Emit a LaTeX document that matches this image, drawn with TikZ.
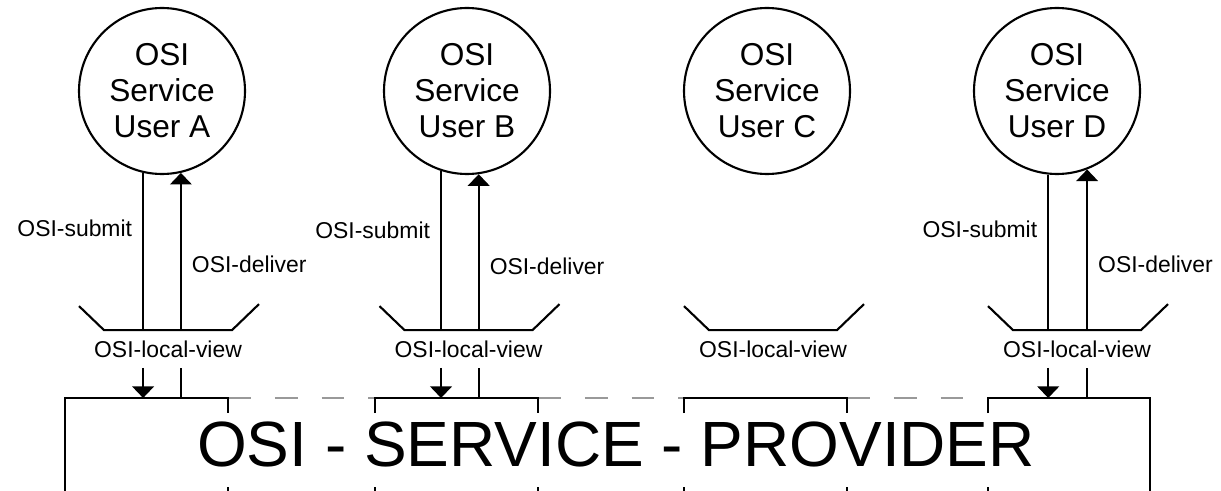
\documentclass[tikz,border=0pt]{standalone}
\usepackage{fontspec}
\setmainfont{Liberation Sans}
\usetikzlibrary{arrows.meta, positioning}
\tikzset{>={Triangle[length=2.9mm, width=5.4mm]}}

\begin{document}
\begin{tikzpicture}[x=2.5mm, y=2.5mm, line width=1.5pt,
    user/.style={draw, circle, minimum size=4.15cm, inner sep=0pt, align=center,
                 font=\fontsize{22.5}{25.6}\selectfont},
    view/.style={inner xsep=0pt, inner ysep=6.7pt, font=\fontsize{16.3}{18}\selectfont},
    lbl/.style={inner sep=0pt, font=\fontsize{16.3}{18}\selectfont},
    gap/.style={black!40, dash pattern=on 5.7mm off 6mm}]
    \useasboundingbox (0,0) rectangle (122.1,-49.1);

    % service users
    \node (A) [user] at (16.2,-9.1) {OSI\\Service\\User A};
    \node (B) [user] at (46.7,-9.1) {OSI\\Service\\User B};
    \node (C) [user] at (76.7,-9.1) {OSI\\Service\\User C};
    \node (D) [user] at (105.7,-9.1) {OSI\\Service\\User D};

    % local views
    \node (vA) [view] at (16.8,-34.9) {OSI-local-view};
    \node (vB) [view] at (46.85,-34.9) {OSI-local-view};
    \node (vC) [view] at (77.3,-34.9) {OSI-local-view};
    \node (vD) [view] at (107.7,-34.9) {OSI-local-view};
    \foreach \v in {vA,vB,vC,vD}
        \draw (\v.north) ++(-8.9,2.4) -- ++(2.5,-2.4) -- ++(12.8,0) -- ++(2.7,2.6);

    % provider
    \coordinate (q1) at (6.5,-39.8);
    \coordinate (q2) at (22.8,-39.8);
    \coordinate (q3) at (37.5,-39.8);
    \coordinate (q4) at (53.8,-39.8);
    \coordinate (q5) at (68.4,-39.8);
    \coordinate (q6) at (84.7,-39.8);
    \coordinate (q7) at (98.8,-39.8);
    \coordinate (q8) at (115.0,-39.8);
    \node (prov) [anchor=base, inner sep=0pt, font=\fontsize{45.5}{50}\selectfont]
        at (61.6,-46.6) {OSI - SERVICE - PROVIDER};
    \draw [gap] (q2) -- (q3);
    \draw [gap] (q4) -- (q5);
    \draw [gap] (q6) -- (q7);
    \draw (q1 |- 0,-49.5) -- (q1) -- (q2) -- ++(0,-1.5);
    \draw (q3) ++(0,-1.5) -- (q3) -- (q4) -- ++(0,-1.5);
    \draw (q5) ++(0,-1.5) -- (q5) -- (q6) -- ++(0,-1.5);
    \draw (q7) ++(0,-1.5) -- (q7) -- (q8) -- (q8 |- 0,-49.5);
    \foreach \q in {q2,q3,q4,q5,q6,q7}
        \draw (\q) ++(0,-8.9) -- ++(0,-1);

    % user A
    \draw (A.257) -- node[left=2.5mm, lbl, pos=.35] {OSI-submit} (A.257 |- vA.north);
    \draw [->] (A.257 |- vA.south) -- (A.257 |- q1);
    \draw (A.283 |- q1) -- (A.283 |- vA.south);
    \draw [->] (A.283 |- vA.north) -- node[right=2.5mm, lbl, pos=.42] {OSI-deliver} (A.283);

    % user B
    \draw (B.252) -- node[left=2.5mm, lbl, pos=.37] {OSI-submit} (B.252 |- vB.north);
    \draw [->] (B.252 |- vB.south) -- (B.252 |- q1);
    \draw (B.278 |- q1) -- (B.278 |- vB.south);
    \draw [->] (B.278 |- vB.north) -- node[right=2.5mm, lbl, pos=.41] {OSI-deliver} (B.278);

    % user D
    \draw (D.264) -- node[left=2.5mm, lbl, pos=.35] {OSI-submit} (D.264 |- vD.north);
    \draw [->] (D.264 |- vD.south) -- (D.264 |- q1);
    \draw (D.291 |- q1) -- (D.291 |- vD.south);
    \draw [->] (D.291 |- vD.north) -- node[right=2.5mm, lbl, pos=.41] {OSI-deliver} (D.291);
\end{tikzpicture}
\end{document}
